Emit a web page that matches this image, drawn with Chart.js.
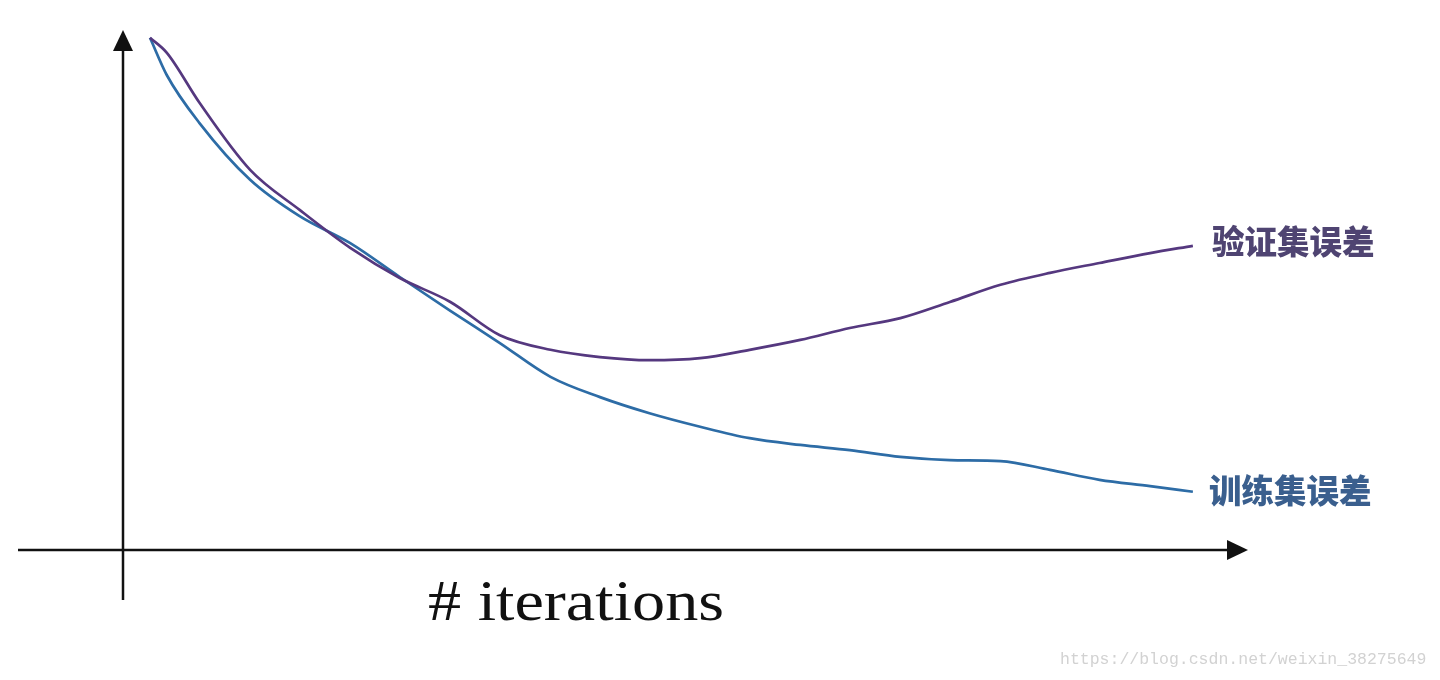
<!DOCTYPE html>
<html>
<head>
<meta charset="utf-8">
<title>iterations</title>
<script src="https://cdn.jsdelivr.net/npm/chart.js@4"></script>
<style>
  html, body { margin: 0; padding: 0; background: #fff; }
  #wrap { width: 1440px; height: 680px; position: relative; }
</style>
</head>
<body>
<div id="wrap"><canvas id="myChart"></canvas></div>
<script>
// iterations (0..100 across the x axis)
var iterations = [2.4, 3.9, 6.8, 11.3, 15.7, 20.2, 24.6, 29.1, 33.5, 38.0, 42.4, 46.8, 51.3, 55.7, 60.2, 64.6, 69.1, 73.5, 78.0, 82.4, 86.8, 91.3, 95.1];
// validation error (0..100 up the y axis)
var devError = [98.5, 95.6, 86.0, 73.1, 65.4, 58.1, 52.3, 47.7, 41.3, 38.5, 37.1, 36.5, 36.9, 38.5, 40.4, 42.7, 44.6, 47.7, 51.0, 53.3, 55.2, 57.1, 58.5];
// training error
var trainError = [98.5, 91.3, 82.1, 71.2, 64.2, 59.0, 52.5, 46.0, 39.8, 33.3, 29.4, 26.3, 23.7, 21.5, 20.2, 19.2, 17.9, 17.3, 17.1, 15.4, 13.5, 12.3, 11.2];
var seriesNames = ['验证集误差', '训练集误差'];
var xTitle = '# iterations';
var watermark = 'https://blog.csdn.net/weixin_38275649';

function toPoints(ys) {
  return iterations.map(function (x, i) { return { x: x, y: ys[i] }; });
}

// axes with arrow heads + end labels + x title
var sketch = {
  id: 'sketch',
  afterDatasetsDraw: function (chart) {
    var ctx = chart.ctx;
    var a = chart.chartArea;
    ctx.save();
    ctx.strokeStyle = '#111';
    ctx.fillStyle = '#111';
    ctx.lineWidth = 2.5;
    // y axis
    ctx.beginPath();
    ctx.moveTo(a.left, 600);
    ctx.lineTo(a.left, a.top + 18);
    ctx.stroke();
    ctx.beginPath();
    ctx.moveTo(a.left, a.top);
    ctx.lineTo(a.left - 10, a.top + 21);
    ctx.lineTo(a.left + 10, a.top + 21);
    ctx.closePath();
    ctx.fill();
    // x axis
    ctx.beginPath();
    ctx.moveTo(18, a.bottom);
    ctx.lineTo(a.right - 18, a.bottom);
    ctx.stroke();
    ctx.beginPath();
    ctx.moveTo(a.right, a.bottom);
    ctx.lineTo(a.right - 21, a.bottom - 10);
    ctx.lineTo(a.right - 21, a.bottom + 10);
    ctx.closePath();
    ctx.fill();

    // series labels at line ends
    var labelColors = ['#4f4472', '#3a5f8e'];
    ctx.font = '900 32.5px "Noto Sans CJK SC"';
    ctx.textBaseline = 'middle';
    ctx.textAlign = 'left';
    chart.data.datasets.forEach(function (ds, i) {
      var meta = chart.getDatasetMeta(i);
      var last = meta.data[meta.data.length - 1];
      ctx.fillStyle = labelColors[i];
      ctx.fillText(seriesNames[i], last.x + (i === 0 ? 19 : 16), last.y - (i === 0 ? 4 : 1));
    });

    // x title, serif, fitted to width
    ctx.fillStyle = '#111';
    ctx.font = '56px "Liberation Serif"';
    ctx.textBaseline = 'alphabetic';
    var w = ctx.measureText(xTitle).width;
    ctx.save();
    ctx.translate(428, 620);
    ctx.scale(296 / w, 1);
    ctx.fillText(xTitle, 0, 0);
    ctx.restore();

    // watermark
    ctx.fillStyle = '#d2d2d2';
    ctx.font = '16.5px "Liberation Mono"';
    ctx.textBaseline = 'middle';
    ctx.fillText(watermark, 1060, 660);
    ctx.restore();
  }
};

var ctx = document.getElementById('myChart').getContext('2d');
var chart = new Chart(ctx, {
  type: 'scatter',
  data: {
    datasets: [{
      label: seriesNames[0],
      data: toPoints(devError),
      showLine: true,
      borderColor: '#55387f',
      borderWidth: 2.7,
      pointRadius: 0,
      cubicInterpolationMode: 'monotone'
    }, {
      label: seriesNames[1],
      data: toPoints(trainError),
      showLine: true,
      borderColor: '#2d6ca6',
      borderWidth: 2.7,
      pointRadius: 0,
      cubicInterpolationMode: 'monotone'
    }]
  },
  options: {
    responsive: true,
    maintainAspectRatio: false,
    animation: false,
    layout: { padding: { left: 123, right: 192, top: 30, bottom: 130 } },
    plugins: { legend: { display: false }, tooltip: { enabled: false } },
    scales: {
      x: { type: 'linear', min: 0, max: 100, display: false },
      y: { min: 0, max: 100, display: false }
    }
  },
  plugins: [sketch]
});
</script>
</body>
</html>
